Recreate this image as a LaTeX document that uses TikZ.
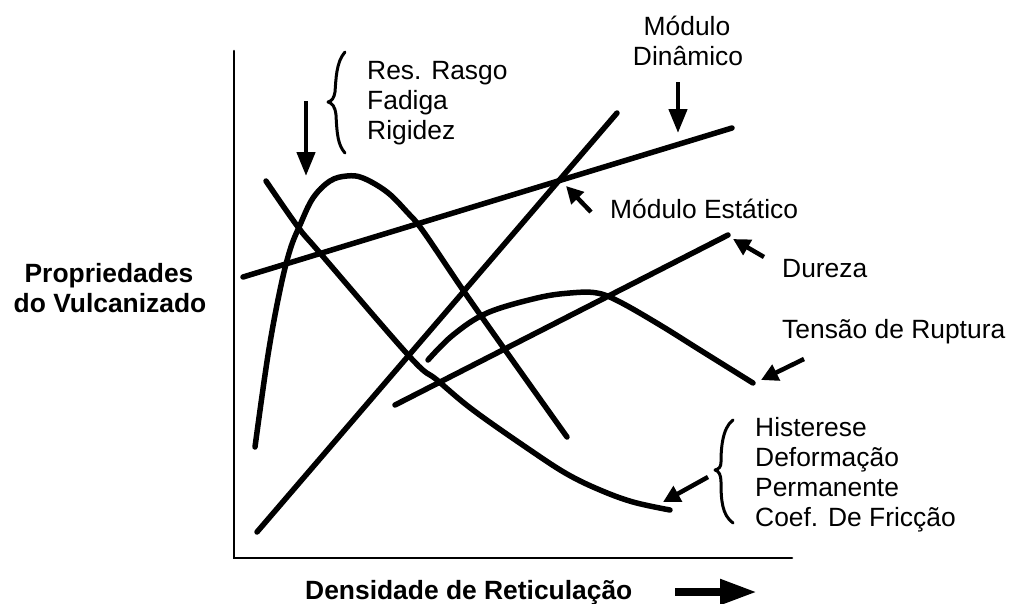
\documentclass[tikz,border=0pt]{standalone}
\usepackage{fontspec}
\setmainfont{Liberation Sans}
\usetikzlibrary{arrows.meta}
\begin{document}
\begin{tikzpicture}[x=1pt,y=-1pt,
  lbl/.style={inner sep=0pt,anchor=base west,font=\fontsize{26.4}{30}\selectfont},
  blbl/.style={inner sep=0pt,anchor=base,font=\fontsize{26.4}{30}\selectfont\bfseries},
  curve/.style={line width=5.5pt,line cap=round,line join=round},
  axis/.style={line width=2.6pt,line cap=round},
  pointer/.style={line width=4.5pt,-{Triangle[length=17pt,width=17pt]}},
  downptr/.style={line width=4.5pt,-{Triangle[length=24pt,width=18pt]}},
  bigptr/.style={line width=8pt,-{Triangle[length=37pt,width=24pt]}},
  bracestyle/.style={line width=3pt,line cap=round,line join=round}]
\useasboundingbox (0,0) rectangle (1020,603);
\fill[white] (0,0) rectangle (1020,603);

% axes
\coordinate (otop) at (234,51);
\coordinate (o) at (234,558);
\coordinate (xend) at (792,558);
\draw[axis] (otop) -- (o) -- (xend);

% curves
\draw[curve] plot[smooth,tension=0.6] coordinates {(255,447) (268,355) (280,290) (290,250) (300,225) (313,198) (330,181) (347,176) (363,178) (387,192) (407,212) (423,231) (463,290) (503,347) (567,437)};
\draw[curve] plot[smooth,tension=0.6] coordinates {(266,181) (298,227) (320,253) (410,357) (437,380) (473,410) (530,450) (567,474) (600,490) (633,502) (670,510)};
\coordinate (c1) at (257,532); \coordinate (c2) at (617,113);
\draw[curve] (c1) -- (c2);
\coordinate (d1) at (243,277); \coordinate (d2) at (732,128);
\draw[curve] (d1) -- (d2);
\draw[curve] plot[smooth,tension=0.6] coordinates {(428,360) (453,335) (487,313) (537,298) (570,293) (597,293) (620,302) (660,325) (700,350) (753,383)};
\coordinate (f1) at (395,405); \coordinate (f2) at (728,235);
\draw[curve] (f1) -- (f2);

% labels
\node[lbl] (res) at (367,79) {Res. Rasgo};
\node[lbl] (fad) at (367,109) {Fadiga};
\node[lbl] (rig) at (367,139) {Rigidez};
\node[lbl,anchor=base] (mod1) at (687,35) {Módulo};
\node[lbl,anchor=base] (din) at (688,65) {Dinâmico};
\node[lbl] (est) at (610,218) {Módulo Estático};
\node[lbl] (dur) at (782,277) {Dureza};
\node[lbl] (ten) at (782,338) {Tensão de Ruptura};
\node[lbl] (his) at (755,436) {Histerese};
\node[lbl] (def) at (755,466) {Deformação};
\node[lbl] (per) at (755,496) {Permanente};
\node[lbl] (coe) at (755,526) {Coef. De Fricção};
\node[blbl] (prop) at (109,282) {Propriedades};
\node[blbl] (vul) at (110,312) {do Vulcanizado};
\node[blbl,anchor=base west] (den) at (305,599) {Densidade de Reticulação};

% braces
\draw[bracestyle] (345,52) .. controls (336,62) and (336,80) .. (335,92) .. controls (334,98) and (332,101) .. (328,102) .. controls (332,103) and (335,106) .. (336,115) .. controls (337,135) and (338,145) .. (345,153);
\draw[bracestyle] (733,420) .. controls (722,428) and (721,450) .. (721,462) .. controls (721,467) and (719,469) .. (715,470) .. controls (719,471) and (721,475) .. (721,482) .. controls (721,500) and (722,515) .. (733,523);

% pointers
\coordinate (a1s) at (306,101); \coordinate (a1e) at (306,176);
\draw[downptr] (a1s) -- (a1e);
\coordinate (a2s) at (678,82); \coordinate (a2e) at (678,133);
\draw[downptr] (a2s) -- (a2e);
\coordinate (a3s) at (591,212); \coordinate (a3e) at (566,186);
\draw[pointer] (a3s) -- (a3e);
\coordinate (a4s) at (764,257); \coordinate (a4e) at (733,239);
\draw[pointer] (a4s) -- (a4e);
\coordinate (a5s) at (804,359); \coordinate (a5e) at (761,380);
\draw[pointer] (a5s) -- (a5e);
\coordinate (a6s) at (708,477); \coordinate (a6e) at (663,502);
\draw[pointer] (a6s) -- (a6e);
\coordinate (a7s) at (675,592); \coordinate (a7e) at (757,592);
\draw[bigptr] (a7s) -- (a7e);
\end{tikzpicture}
\end{document}
